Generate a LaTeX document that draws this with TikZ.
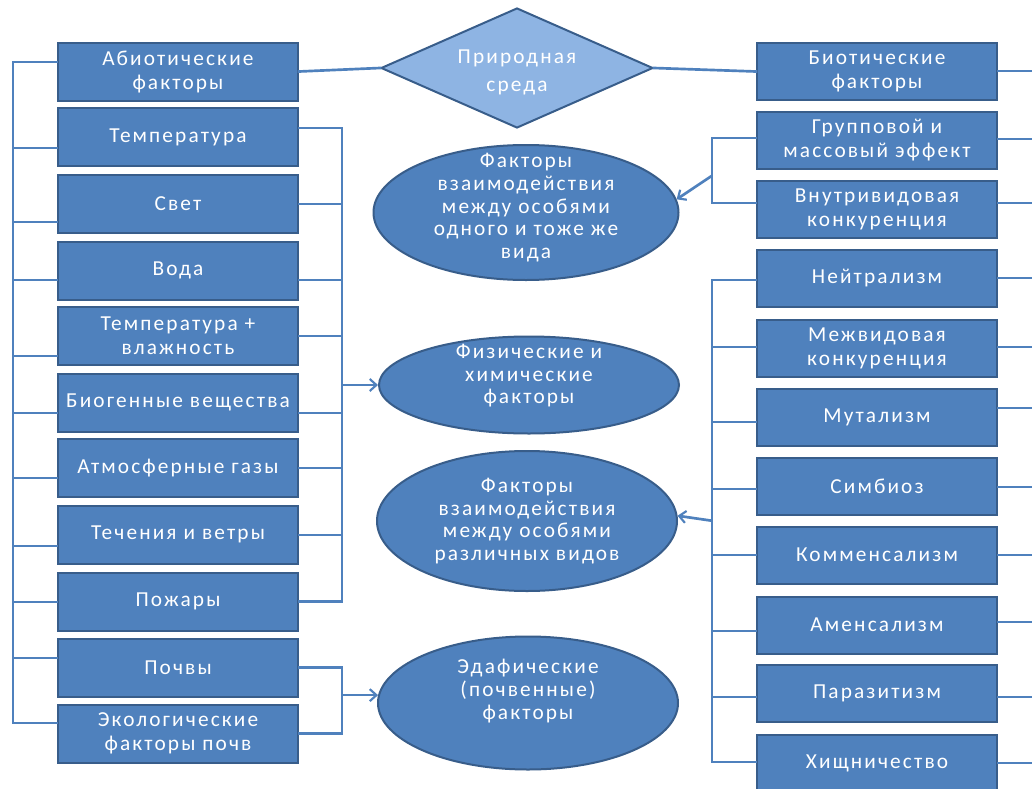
\documentclass[tikz,border=0pt]{standalone}
\usepackage{fontspec}
\setmainfont{Carlito}[LetterSpace=10]
\usetikzlibrary{shapes.geometric,calc,arrows.meta}
\definecolor{boxfill}{HTML}{4F81BD}
\definecolor{boxline}{HTML}{385D8A}
\definecolor{connc}{HTML}{4F81BD}
\definecolor{diafill}{HTML}{8EB4E3}
\tikzset{
 lbox/.style={rectangle, draw=boxline, line width=1.5pt, fill=boxfill, text=white,
   minimum width=240*0.75pt, minimum height=58*0.75pt, inner sep=0pt, align=center,
   font=\fontsize{16}{18}\selectfont},
 rbox/.style={lbox, minimum height=57*0.75pt},
 ell/.style={ellipse, draw=boxline, line width=1.5pt, fill=boxfill,
   inner sep=0pt, minimum width=300*0.75pt},
 etext/.style={text=white, align=center, font=\fontsize{16}{17}\selectfont},
 dia/.style={diamond, draw=boxline, line width=1.5pt, fill=diafill,
   inner sep=0pt, aspect=2.27, minimum width=272*0.75pt, minimum height=120*0.75pt},
 dtext/.style={text=white, align=center, font=\fontsize{16}{21}\selectfont},
 conn/.style={draw=connc, line width=2pt, line cap=rect},
 arr/.style={draw=connc, line width=2pt, -{Straight Barb[length=5pt,width=9pt,line width=1.6pt]}},
}
\begin{document}
\begin{tikzpicture}[x=0.75pt,y=-0.75pt]
\useasboundingbox (0,0) rectangle (1032,789);
\fill[white] (0,0) rectangle (1032,789);
% helper coordinates for vertical buses
\coordinate (busL) at (13,0);
\coordinate (brL) at (342,0);
\coordinate (brR) at (712,0);
\coordinate (edgeR) at (1045,0);
% left boxes
\node[lbox] (A0) at (178,71.5) {Абиотические\\факторы};
\node[lbox] (A1) at (178,137) {Температура};
\node[lbox] (A2) at (178,204) {Свет};
\node[lbox] (A3) at (178,270.5) {Вода};
\node[lbox] (A4) at (178,336) {Температура +\\влажность};
\node[lbox] (A5) at (178,402.5) {Биогенные вещества};
\node[lbox] (A6) at (178,468) {Атмосферные газы};
\node[lbox] (A7) at (178,534.5) {Течения и ветры};
\node[lbox] (A8) at (178,601.5) {Пожары};
\node[lbox] (A9) at (178,667.5) {Почвы};
\node[lbox] (A10) at (178,733.5) {Экологические\\факторы почв};
% right boxes
\node[rbox] (B0) at (877,71.5) {Биотические\\факторы};
\node[rbox] (B1) at (877,140) {Групповой и\\массовый эффект};
\node[rbox] (B2) at (877,209.5) {Внутривидовая\\конкуренция};
\node[rbox] (B3) at (877,278.5) {Нейтрализм};
\node[rbox] (B4) at (877,348.5) {Межвидовая\\конкуренция};
\node[rbox] (B5) at (877,417) {Мутализм};
\node[rbox] (B6) at (877,486.5) {Симбиоз};
\node[rbox] (B7) at (877,555) {Комменсализм};
\node[rbox] (B8) at (877,625) {Аменсализм};
\node[rbox] (B9) at (877,693.5) {Паразитизм};
\node[rbox] (B10) at (877,763.5) {Хищничество};
% centre column
\node[dia, label={[dtext, yshift=-3.5pt]center:Природная\\среда}] (D) at (517,68) {};
\node[ell, minimum width=305*0.75pt, minimum height=135*0.75pt,
  label={[etext, yshift=3.5pt]center:Факторы\\взаимодействия\\между особями\\одного и тоже же\\вида}]
  (E1) at (526,212.5) {};
\node[ell, minimum height=97*0.75pt,
  label={[etext, yshift=7pt]center:Физические и\\химические\\факторы}]
  (E2) at (529,385) {};
\node[ell, minimum height=140*0.75pt,
  label={[etext]center:Факторы\\взаимодействия\\между особями\\различных видов}]
  (E3) at (527,521) {};
\node[ell, minimum height=133*0.75pt,
  label={[etext, yshift=9pt]center:Эдафические\\(почвенные)\\факторы}]
  (E4) at (528,703) {};
% top links
\draw[conn] (A0.east) -- (D.west);
\draw[conn] (D.east) -- (B0.west);
% left outer bus
\foreach \n/\o in {A0/-9.5,A1/11,A2/18,A3/9.5,A4/20,A5/10.5,A6/10,A7/11.5,A8/0.5,A9/-9.5,A10/-10.5}{
  \draw[conn] ($(\n.west)+(0,\o)$) coordinate (lw-\n) -- (lw-\n -| busL);
}
\draw[conn] (lw-A0 -| busL) -- (lw-A10 -| busL);
% left inner bracket (physical & chemical)
\foreach \n/\o in {A1/-9,A2/0,A3/9.5,A4/0,A5/10.5,A6/0,A7/0.5,A8/0,A9/0,A10/0}{
  \draw[conn] ($(\n.east)+(0,\o)$) coordinate (le-\n) -- (le-\n -| brL);
}
\draw[conn] (le-A1 -| brL) -- (le-A8 -| brL);
\draw[arr] (E2.west -| brL) -- (E2.west);
\draw[conn] (le-A9 -| brL) -- (le-A10 -| brL);
\draw[arr] (E4.177 -| brL) -- (E4.177);
% right inner brackets
\foreach \n/\o in {B1/-2,B2/-6.5,B3/1.5,B4/-1.5,B5/5,B6/2.5,B7/0,B8/6,B9/3.5,B10/-1.5}{
  \draw[conn] ($(\n.west)+(0,\o)$) coordinate (rw-\n) -- (rw-\n -| brR);
}
\draw[conn] (rw-B1 -| brR) -- (rw-B2 -| brR);
\draw[arr] ($(rw-B1 -| brR)!0.58!(rw-B2 -| brR)$) -- (E1.5);
\draw[conn] (rw-B3 -| brR) -- (rw-B10 -| brR);
\draw[arr] ($(E3.2 -| brR)+(0,5)$) -- (E3.2);
% right outer lines (run off the page)
\foreach \n/\o in {B0/-0.5,B1/-1,B2/-6.5,B3/-0.5,B4/-1.5,B5/-9,B6/0.5,B7/0,B8/-3,B9/3.5,B10/-0.5}{
  \draw[conn] ($(\n.east)+(0,\o)$) coordinate (re-\n) -- (re-\n -| edgeR);
}
\end{tikzpicture}
\end{document}
